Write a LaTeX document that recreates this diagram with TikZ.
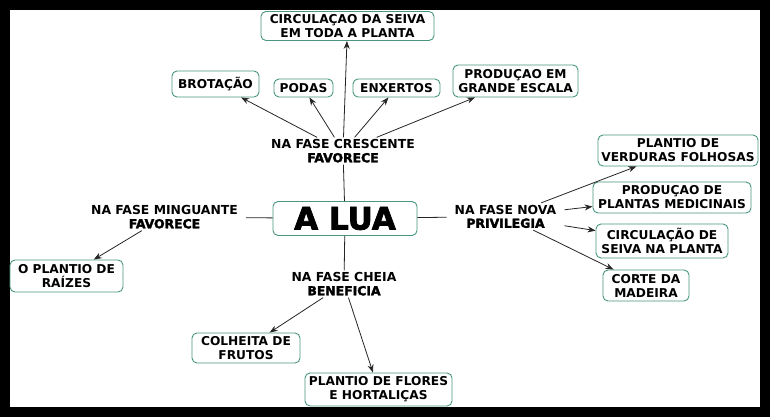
\documentclass[tikz,border=0pt]{standalone}
\usepackage{fontspec}
\setmainfont{DejaVu Sans}
\newfontfamily\pesado[FakeBold=2.5]{DejaVu Sans Bold}
\usetikzlibrary{arrows.meta}
\definecolor{Borda}{RGB}{72,150,130}

\begin{document}
\begin{tikzpicture}[x=1pt,y=-1pt,>={Stealth[length=8pt,width=6pt]},
  caixa/.style={draw=Borda,line width=0.9pt,rounded corners=5pt,fill=white,align=center,
    font=\bfseries\fontsize{12.2}{14}\selectfont,inner sep=2pt},
  frase/.style={align=center,font=\bfseries\fontsize{12.4}{13.5}\selectfont,inner xsep=8pt,inner ysep=2pt},
  liga/.style={line width=0.8pt,draw=black!85}]
\fill[black] (0,0) rectangle (770,417);
\fill[white] (10,10) rectangle (760,407);

\node[caixa,minimum width=144pt,minimum height=34pt,font=\pesado\fontsize{31}{34}\selectfont] (lua) at (345,218.5) {A LUA};

\node[frase] (cres) at (343,151) {NA FASE CRESCENTE\\{\pesado FAVORECE}};
\node[frase] (ming) at (164.5,217) {NA FASE MINGUANTE\\{\pesado FAVORECE}};
\node[frase] (cheia) at (344,284) {NA FASE CHEIA\\{\pesado BENEFICIA}};
\node[frase] (nova) at (505.5,216.5) {NA FASE NOVA\\{\pesado PRIVILEGIA}};

\node[caixa,minimum width=173pt,minimum height=29pt] (circ) at (347.5,26) {CIRCULAÇAO DA SEIVA\\EM TODA A PLANTA};
\node[caixa,minimum width=87pt,minimum height=26pt] (brot) at (215.5,84) {BROTAÇÃO};
\node[caixa,minimum width=59pt,minimum height=18pt] (podas) at (303.5,88) {PODAS};
\node[caixa,minimum width=87pt,minimum height=18pt] (enx) at (396.5,88) {ENXERTOS};
\node[caixa,minimum width=125pt,minimum height=32pt] (prod) at (515.5,81) {PRODUÇAO EM\\GRANDE ESCALA};
\node[caixa,minimum width=160pt,minimum height=31pt] (verd) at (678,150.5) {PLANTIO DE\\VERDURAS FOLHOSAS};
\node[caixa,minimum width=158pt,minimum height=31pt] (medic) at (672,197.5) {PRODUÇAO DE\\PLANTAS MEDICINAIS};
\node[caixa,minimum width=132pt,minimum height=34pt] (seiva) at (662,241) {CIRCULAÇÃO DE\\SEIVA NA PLANTA};
\node[caixa,minimum width=86pt,minimum height=31pt] (corte) at (646,285.5) {CORTE DA\\MADEIRA};
\node[caixa,minimum width=147pt,minimum height=33pt] (flores) at (378.5,389.5) {PLANTIO DE FLORES\\E HORTALIÇAS};
\node[caixa,minimum width=108pt,minimum height=30pt] (colh) at (246,348) {COLHEITA DE\\FRUTOS};
\node[caixa,minimum width=113pt,minimum height=32pt] (raiz) at (66.5,276) {O PLANTIO DE\\RAÍZES};

\draw[liga] (lua) -- (cres);
\draw[liga] (lua) -- (ming);
\draw[liga] (lua) -- (cheia);
\draw[liga] (lua) -- (nova);

\draw[liga,->] (cres) -- (circ);
\draw[liga,->] (cres) -- (brot);
\draw[liga,->] (cres) -- (podas);
\draw[liga,->] (cres) -- (enx);
\draw[liga,->] (cres) -- (prod);
\draw[liga,->] (ming) -- (raiz);
\draw[liga,->] (cheia) -- (colh);
\draw[liga,->] (cheia) -- (flores);
\draw[liga,->] (nova) -- (verd);
\draw[liga,->] (nova) -- (medic);
\draw[liga,->] (nova) -- (seiva);
\draw[liga,->] (nova) -- (corte);
\end{tikzpicture}
\end{document}
